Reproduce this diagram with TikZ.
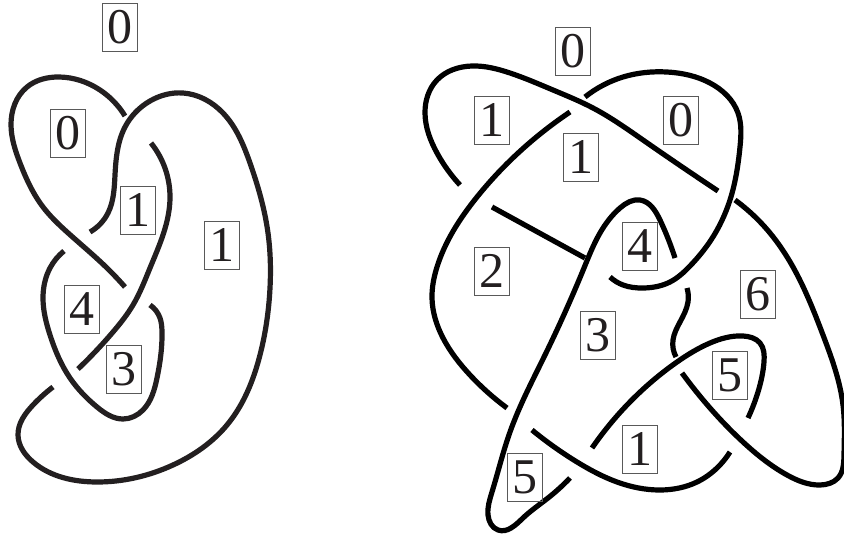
\documentclass[tikz,border=0pt]{standalone}
\usepackage{fontspec}
\usetikzlibrary{hobby}
\setmainfont{Liberation Serif}
\definecolor{inkA}{HTML}{231F20}
\tikzset{
  strandL/.style={draw=inkA,line width=5.2pt,line join=round,use Hobby shortcut},
  strandR/.style={draw=black,line width=5.2pt,line join=round,use Hobby shortcut},
  lab/.style={draw=black!65,line width=0.9pt,minimum width=35pt,minimum height=48pt,inner sep=0pt,text=inkA,font=\fontsize{50}{50}\selectfont},
}
\begin{document}
\begin{tikzpicture}[x=1pt,y=-1pt]
\useasboundingbox (0,0) rectangle (844,535);
% left knot
\draw[strandL] (125,116) .. (100,90) .. (59,77) .. (27,87) .. (11,125) .. (20,163) .. (43,207) .. (67,232) .. (107,268) .. (125,287);
\draw[strandL] (90,232) .. (108,213) .. (115,175) .. (125,127) .. (150,101) .. (183,93) .. (223,113) .. (250,163) .. (268,233) .. (270,288) .. (260,355) .. (227,425) .. (173,465) .. (97,482) .. (33,462) .. (18,435) .. (33,405) .. (53,387);
\draw[strandL] (151,143) .. (170,197) .. (150,268) .. (133,305) .. (113,332) .. (78,369);
\draw[strandL] (64,251) .. (50,268) .. (43,298) .. (50,335) .. (70,378) .. (97,407) .. (123,419) .. (143,410) .. (157,378) .. (162,332) .. (160,318) .. (150,305);
% right knot
\draw[strandR] (460,185) .. (437,153) .. (425,113) .. (437,80) .. (472,66) .. (510,73) .. (553,90) .. (593,108) .. (643,140) .. (718,191);
\draw[strandR] (570,112) .. (527,145) .. (477,197) .. (437,267) .. (432,298) .. (443,338) .. (470,375) .. (507,408);
\draw[strandR] (585,97) .. (623,77) .. (667,72) .. (710,83) .. (738,113) .. (740,147) .. (730,200) .. (711,240) .. (690,266) .. (670,282) .. (643,288) .. (623,285) .. (610,277);
\draw[strandR] (492,207) -- (585,258);
\draw[strandR] (675,258) .. (660,220) .. (640,200) .. (620,208) .. (600,233) .. (584,268) .. (545,355) .. (510,432) .. (492,492) .. (488,515) .. (498,530) .. (523,518) .. (548,498) .. (570,478);
\draw[strandR] (532,430) .. (577,462) .. (617,482) .. (660,490) .. (697,482) .. (717,468) .. (730,452);
\draw[strandR] (592,448) .. (627,405) .. (677,362) .. (710,343) .. (743,336) .. (760,343) .. (764,362) .. (758,392) .. (748,418);
\draw[strandR] (682,373) .. (710,408) .. (743,442) .. (787,475) .. (820,485) .. (838,478) .. (844,455) .. (843,405) .. (823,335) .. (793,267) .. (770,233) .. (735,200);
\draw[strandR] (687,288) .. (688,302) .. (680,322) .. (673,340) .. (676,357);
% labels left
\node[lab] (a0) at (120,27) {0};
\node[lab] (a1) at (68,133) {0};
\node[lab] (a2) at (138,210) {1};
\node[lab] (a3) at (222,245) {1};
\node[lab] (a4) at (82,309) {4};
\node[lab] (a5) at (124,369) {3};
% labels right
\node[lab] (b0) at (573,51) {0};
\node[lab] (b1) at (492,120) {1};
\node[lab] (b2) at (681,120) {0};
\node[lab] (b3) at (581,157) {1};
\node[lab] (b4) at (640,246) {4};
\node[lab] (b5) at (492,271) {2};
\node[lab] (b6) at (758,294) {6};
\node[lab] (b7) at (598,335) {3};
\node[lab] (b8) at (730,375) {5};
\node[lab] (b9) at (640,449) {1};
\node[lab] (b10) at (525,477) {5};
\end{tikzpicture}
\end{document}
